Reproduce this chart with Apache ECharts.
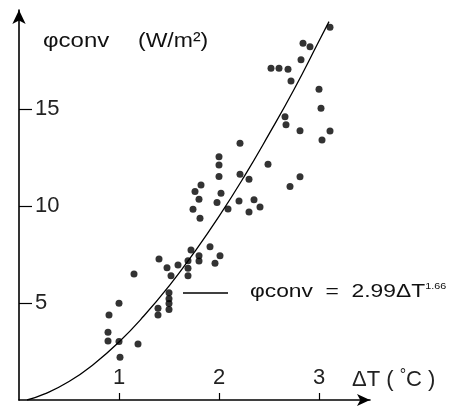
<!DOCTYPE html>
<html>
<head>
<meta charset="utf-8">
<script src="https://cdn.jsdelivr.net/npm/echarts@6/dist/echarts.min.js"></script>
<style>
  html, body { margin: 0; padding: 0; background: #fff; }
  #chart { width: 470px; height: 407px; }
</style>
</head>
<body>
<div id="chart"></div>
<script>
// measured points: [dT, phi]
const points = [
    [0.89, 3.04], [0.89, 3.49], [0.90, 4.38], [1.00, 4.98], [1.00, 3.01], [1.01, 2.20],
    [1.19, 2.89], [1.15, 6.49], [1.39, 4.73], [1.39, 4.38], [1.40, 7.27], [1.48, 6.82],
    [1.52, 6.41], [1.50, 5.53], [1.50, 5.22], [1.50, 4.97], [1.50, 4.66], [1.59, 6.96],
    [1.69, 7.18], [1.69, 6.79], [1.69, 6.41], [1.72, 7.73], [1.80, 7.44], [1.80, 7.16],
    [1.91, 7.90], [2.01, 7.44], [1.96, 7.05],
    [1.74, 9.83], [1.81, 9.37], [1.80, 10.35], [1.76, 10.74], [1.82, 11.08], [1.98, 10.18],
    [2.02, 10.65], [2.09, 9.84], [2.20, 10.26], [2.30, 9.69], [2.35, 10.32], [2.41, 9.95],
    [2.00, 11.52], [2.00, 12.11], [2.00, 12.54], [2.21, 11.63], [2.30, 11.38], [2.21, 13.23],
    [2.49, 12.15], [2.71, 11.00], [2.81, 11.51], [2.66, 14.60], [2.67, 14.18], [2.81, 13.88],
    [3.11, 13.87], [3.03, 13.40], [3.00, 16.02], [3.02, 15.04], [2.72, 16.44], [2.52, 17.10],
    [2.60, 17.10], [2.69, 17.05], [2.82, 17.53], [2.84, 18.39], [2.91, 18.21], [3.11, 19.21]
];
// fitted curve
const curveX = [0.08, 0.25, 0.5, 0.75, 1.0, 1.25, 1.5, 1.75, 2.0, 2.25, 2.5, 2.75, 3.0, 3.1];
const curveY = [0.0, 0.30, 0.95, 1.86, 2.99, 4.34, 5.87, 7.59, 9.46, 11.5, 13.7, 16.0, 18.5, 19.5];
const xTicks = [1, 2, 3];
const yTicks = [5, 10, 15];

var chartDom = document.getElementById('chart');
var myChart = echarts.init(chartDom);
var font = 'Liberation Sans';

var option = {
    animation: false,
    grid: { left: 19, top: 10, width: 351, height: 390 },
    xAxis: {
        type: 'value',
        min: 0,
        max: 3.51,
        splitLine: { show: false },
        axisLine: {
            lineStyle: { color: '#000', width: 1.6 },
            symbol: ['none', 'arrow'],
            symbolSize: [9, 13]
        },
        axisTick: { inside: true, length: 7, customValues: xTicks, lineStyle: { color: '#000', width: 1.2 } },
        axisLabel: {
            inside: true,
            margin: 11,
            customValues: xTicks,
            color: '#222',
            fontFamily: font,
            fontSize: 22
        }
    },
    yAxis: {
        type: 'value',
        min: 0,
        max: 20.1,
        splitLine: { show: false },
        axisLine: {
            lineStyle: { color: '#000', width: 1.6 },
            symbol: ['none', 'arrow'],
            symbolSize: [10, 14]
        },
        axisTick: { inside: true, length: 13, customValues: yTicks, lineStyle: { color: '#000', width: 1.2 } },
        axisLabel: {
            inside: true,
            margin: 16,
            customValues: yTicks,
            color: '#222',
            fontFamily: font,
            fontSize: 22
        }
    },
    series: [
        {
            type: 'line',
            smooth: true,
            symbol: 'none',
            lineStyle: { color: '#000', width: 1.3 },
            data: curveX.map(function (x, i) { return [x, curveY[i]]; })
        },
        {
            type: 'scatter',
            symbolSize: 7,
            itemStyle: { color: '#000' },
            data: points
        }
    ],
    graphic: [
        {
            type: 'text', left: 43, top: 31, scaleX: 1.2,
            style: { text: 'φconv', fontFamily: font, fontSize: 20, fill: '#111' }
        },
        {
            type: 'text', left: 138, top: 31, scaleX: 1.15,
            style: { text: '(W/m²)', fontFamily: font, fontSize: 20, fill: '#111' }
        },
        {
            type: 'line',
            shape: { x1: 183, y1: 293, x2: 228, y2: 293 },
            style: { stroke: '#000', lineWidth: 1.5 }
        },
        {
            type: 'text', left: 250, top: 282, scaleX: 1.2,
            style: {
                text: '{a|φconv  =  2.99ΔT}{s|1.66}',
                fontFamily: font,
                fill: '#111',
                rich: {
                    a: { fontSize: 19, fontFamily: font },
                    s: { fontSize: 9, fontFamily: font, verticalAlign: 'top', padding: [0, 0, 10, 0] }
                }
            }
        },
        {
            type: 'text', left: 352, top: 368,
            style: {
                text: '{a|ΔT ( }{s|°}{a|C )}',
                fontFamily: font,
                fill: '#222',
                rich: {
                    a: { fontSize: 22, fontFamily: font },
                    s: { fontSize: 16, fontFamily: font, verticalAlign: 'top', padding: [0, 0, 8, 0] }
                }
            }
        }
    ]
};

option && myChart.setOption(option);
</script>
</body>
</html>
